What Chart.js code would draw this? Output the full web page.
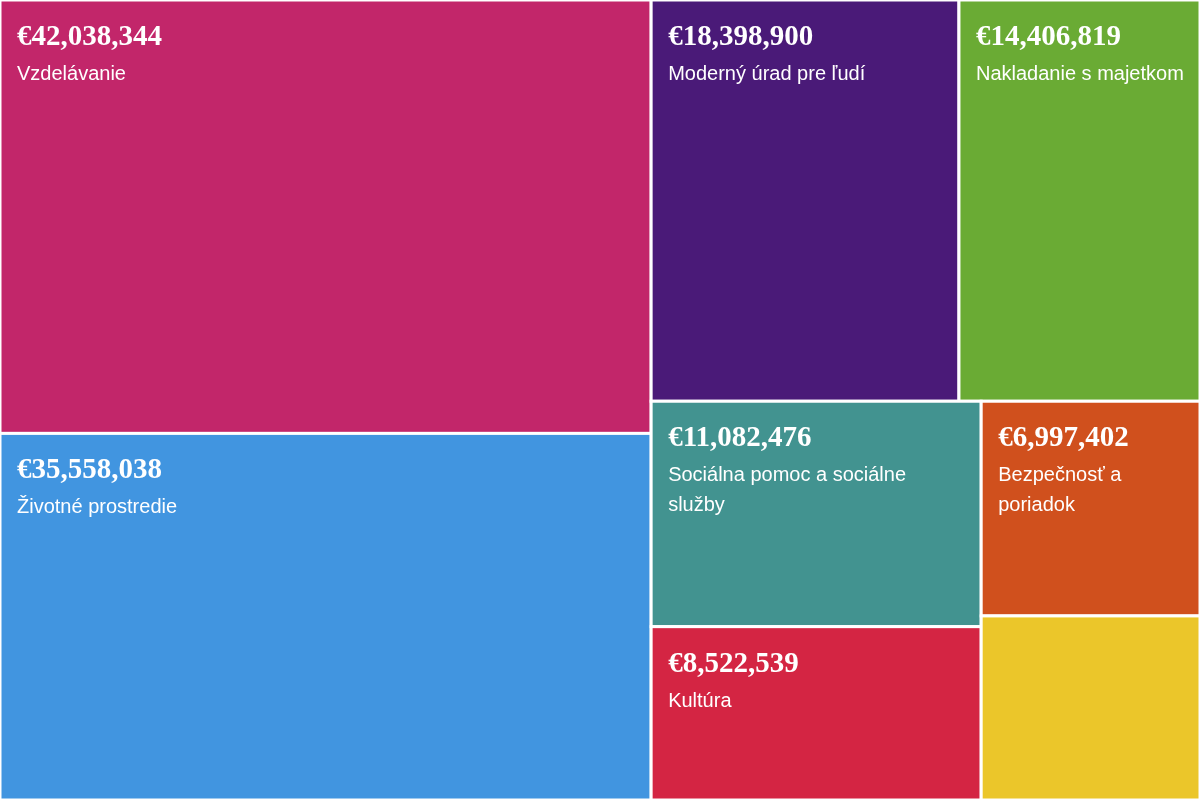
<!DOCTYPE html>
<html><head><meta charset="utf-8">
<script src="https://cdn.jsdelivr.net/npm/chart.js@4/dist/chart.umd.min.js"></script>
<style>html,body{margin:0;padding:0;background:#fff}#w{width:1200px;height:800px}</style>
</head><body><div id="w"><canvas id="c"></canvas></div>
<script>
const categories = ["Vzdelávanie","Životné prostredie","Moderný úrad pre ľudí","Nakladanie s majetkom","Sociálna pomoc a sociálne služby","Kultúra","Bezpečnosť a poriadok",""];
const values = [42038344,35558038,18398900,14406819,11082476,8522539,6997402,6000000];
const colors = ["#C2266A","#4195E0","#4A1A78","#6AAB34","#429390","#D42543","#D0501D","#EBC62A"];
const showValue = [true,true,true,true,true,true,true,false];

function layout(W,H){
  const v=values, T=v.reduce((s,x)=>s+x,0), r=[];
  const lw=W*(v[0]+v[1])/T, ah=H*v[0]/(v[0]+v[1]);
  r[0]=[0,0,lw,ah]; r[1]=[0,ah,lw,H];
  const R=T-v[0]-v[1], rw=W-lw, th=H*(v[2]+v[3])/R, cw=rw*v[2]/(v[2]+v[3]);
  r[2]=[lw,0,lw+cw,th]; r[3]=[lw+cw,0,W,th];
  const B=v[4]+v[5]+v[6]+v[7];
  const hb=H-th, c1=rw*(v[4]+v[5])/B, eh=hb*v[4]/(v[4]+v[5]), fh=hb*v[6]/(v[6]+v[7]);
  r[4]=[lw,th,lw+c1,th+eh]; r[5]=[lw,th+eh,lw+c1,H];
  r[6]=[lw+c1,th,W,th+fh]; r[7]=[lw+c1,th+fh,W,H];
  return r;
}
const fmt=n=>"€"+n.toLocaleString("en-US");
function wrap(ctx,text,maxW){
  const words=text.split(" "),lines=[];let cur="";
  for(const w of words){const t=cur?cur+" "+w:w; if(ctx.measureText(t).width>maxW&&cur){lines.push(cur);cur=w;}else cur=t;}
  if(cur)lines.push(cur);return lines;
}
const treemap={id:"treemap",afterDatasetsDraw(chart){
  const ctx=chart.ctx,xs=chart.scales.x,ys=chart.scales.y;
  const rects=layout(1200,800);
  rects.forEach((q,i)=>{
    const x0=xs.getPixelForValue(q[0]),x1=xs.getPixelForValue(q[2]);
    const y0=ys.getPixelForValue(q[1]),y1=ys.getPixelForValue(q[3]);
    ctx.save();
    ctx.fillStyle=colors[i];ctx.fillRect(x0,y0,x1-x0,y1-y0);
    ctx.strokeStyle="#fff";ctx.lineWidth=3;ctx.strokeRect(x0,y0,x1-x0,y1-y0);
    if(showValue[i]){
      ctx.fillStyle="#fff";ctx.textBaseline="alphabetic";
      ctx.font="bold 29px 'Liberation Serif', serif";
      ctx.fillText(fmt(values[i]),x0+17,y0+45);
      ctx.font="20px 'Liberation Sans', Arial, sans-serif";
      wrap(ctx,categories[i],x1-x0-30).forEach((l,k)=>ctx.fillText(l,x0+17,y0+80+k*30));
    }
    ctx.restore();
  });
}};
new Chart(document.getElementById("c"),{
  type:"scatter",
  data:{datasets:[{data:[],pointRadius:0}]},
  options:{responsive:true,maintainAspectRatio:false,animation:false,
    layout:{padding:0},
    plugins:{legend:{display:false},tooltip:{enabled:false}},
    scales:{x:{type:"linear",min:0,max:1200,display:false},
            y:{type:"linear",min:0,max:800,reverse:true,display:false}}},
  plugins:[treemap]
});
</script></body></html>
